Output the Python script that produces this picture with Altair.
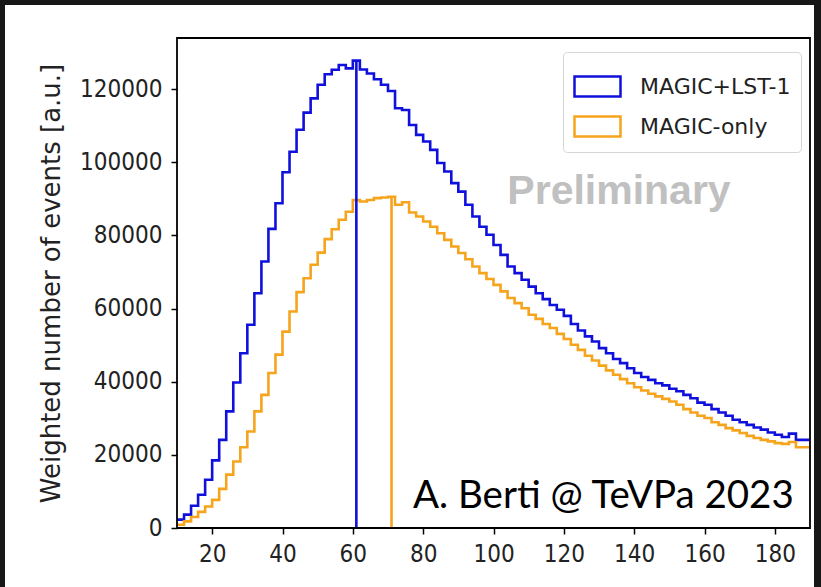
import altair as alt
import pandas as pd

# ---------------- data ----------------
bin_edges = list(range(10, 190, 2))  # left edges of 2-unit bins, 10..188

magic_lst1 = [
    2300, 3650, 6100, 9100, 13200, 18500, 24100, 31900, 39800, 47800,
    55600, 64200, 72900, 81800, 88800, 97300, 102900, 108900, 113600, 117500,
    121200, 124100, 125300, 126600, 125700, 127800, 125400, 124300, 122700, 121200,
    119500, 114800, 114300, 110200, 107500, 105700, 103400, 99800, 97500, 94300,
    92000, 88400, 85200, 82400, 80200, 77400, 74700, 71500, 69700, 67900,
    66000, 64200, 62600, 61000, 59700, 58000, 55800, 54000, 52400, 51000,
    49200, 47800, 46200, 45100, 43700, 42400, 41300, 40500, 39600, 39000,
    38100, 37400, 36400, 35500, 34300, 33700, 32500, 31600, 30700, 29600,
    28900, 28200, 27500, 26900, 26100, 25500, 24900, 25800, 24100, 24100,
]
magic_only = [
    900, 1800, 3000, 4400, 5900, 7700, 10700, 14600, 18200, 22100,
    26400, 31900, 36400, 42400, 47400, 53700, 59200, 64500, 68300, 72000,
    75300, 79000, 81700, 84300, 86500, 89700, 89300, 89700, 90200, 90400,
    90600, 88400, 89100, 86300, 85200, 83800, 82400, 80600, 78800, 77000,
    75200, 73500, 71500, 69700, 68100, 66500, 64700, 62900, 61500, 60100,
    58300, 57200, 55800, 54700, 53100, 51700, 50100, 48700, 47100, 45800,
    44400, 43100, 41900, 40700, 39600, 38500, 37600, 36700, 36000, 35300,
    34600, 33700, 32500, 31600, 30700, 30100, 28900, 28200, 27300, 26700,
    26000, 25200, 24600, 24100, 23700, 23200, 23000, 23500, 22100, 22100,
]
series_names = ["MAGIC+LST-1", "MAGIC-only"]
series_colors = ["#1010dc", "#f6a41c"]
x_ticks = [20, 40, 60, 80, 100, 120, 140, 160, 180]
y_ticks = [0, 20000, 40000, 60000, 80000, 100000, 120000]
y_title = "Weighted number of events [a.u.]"
annotations = ["Preliminary", "A. Berti @ TeVPa 2023"]

# ---------------- tables ----------------
rows, peaks = [], []
for name, vals in zip(series_names, [magic_lst1, magic_only]):
    for e, v in zip(bin_edges, vals):
        rows.append({"x": e, "y": v, "series": name})
    rows.append({"x": bin_edges[-1] + 2, "y": vals[-1], "series": name})
    i = max(range(len(vals)), key=lambda k: vals[k])
    peaks.append({"x": bin_edges[i] + 1, "y0": 0, "y": vals[i], "series": name})
hist = pd.DataFrame(rows)
peak_df = pd.DataFrame(peaks)

W, H = 633, 490
FONT = "DejaVu Sans"
TICKFONT = "DejaVu Sans Condensed"

xs = alt.Scale(domain=[10, 190], nice=False, zero=False)
ys = alt.Scale(domain=[0, 134000], nice=False)
cs = alt.Scale(domain=series_names, range=series_colors)

legend = alt.Legend(
    title=None, orient="none", legendX=386, legendY=14,
    symbolType="M-1,-0.43L1,-0.43L1,0.43L-1,0.43Z", symbolSize=2116,
    symbolStrokeWidth=2.5, symbolFillColor="white",
    labelFont=FONT, labelFontSize=22, labelColor="#222222", labelOffset=18,
    padding=10, rowPadding=-8, strokeColor="#d5d5d5", fillColor="white",
    cornerRadius=4, zindex=1,
)

x_axis = alt.Axis(values=x_ticks, title=None, grid=False, domain=False,
                  labelFont=TICKFONT, labelFontSize=24, labelColor="#222222",
                  tickSize=6, tickWidth=1.5, tickColor="black", labelPadding=8,
                  zindex=1)
y_axis = alt.Axis(values=y_ticks, format="d", title=y_title, grid=False, domain=False,
                  labelFont=TICKFONT, labelFontSize=24, labelColor="#222222",
                  tickSize=6, tickWidth=1.5, tickColor="black", labelPadding=9,
                  titleFont=FONT, titleFontSize=26, titleFontWeight="normal",
                  titleColor="#222222", titleX=-126, titleY=H / 2, titleAngle=270,
                  titleAlign="center", titleBaseline="middle", zindex=1)

one = pd.DataFrame({"k": [0]})

white_bg = alt.Chart(one).mark_rect(color="white").encode(
    x=alt.value(-172), x2=alt.value(W + 4), y=alt.value(-33), y2=alt.value(H + 59)
)

lines = alt.Chart(hist).mark_line(interpolate="step-after", strokeWidth=2.6).encode(
    x=alt.X("x:Q", scale=xs, axis=x_axis),
    y=alt.Y("y:Q", scale=ys, axis=y_axis),
    color=alt.Color("series:N", scale=cs, legend=legend),
)

rules = alt.Chart(peak_df).mark_rule(strokeWidth=2.6).encode(
    x="x:Q", y="y0:Q", y2="y:Q",
    color=alt.Color("series:N", scale=cs, legend=legend),
)

prelim = alt.Chart(pd.DataFrame({"t": [annotations[0]]})).mark_text(
    font="Liberation Sans", fontWeight="bold", fontSize=41, color="#c0c0c0",
    align="center", baseline="alphabetic",
).encode(text="t:N", x=alt.value(442), y=alt.value(166))

credit = alt.Chart(pd.DataFrame({"t": [annotations[1]]})).mark_text(
    font="Lato", fontSize=38.5, color="black", align="left", baseline="alphabetic",
).encode(text="t:N", x=alt.value(236), y=alt.value(470))

frame = alt.Chart(one).mark_rect(fill="transparent", stroke="black", strokeWidth=1.8).encode(
    x=alt.value(0), x2=alt.value(W), y=alt.value(0), y2=alt.value(H)
)

chart = alt.layer(white_bg, lines, rules, prelim, credit, frame).properties(
    width=W, height=H,
    padding={"left": 177, "top": 38, "right": 11, "bottom": 59},
    autosize=alt.AutoSizeParams(type="none"),
    background="#171717",
).configure_view(strokeWidth=0)

chart.save("out.html", embed_options={"renderer": "svg", "actions": False})
